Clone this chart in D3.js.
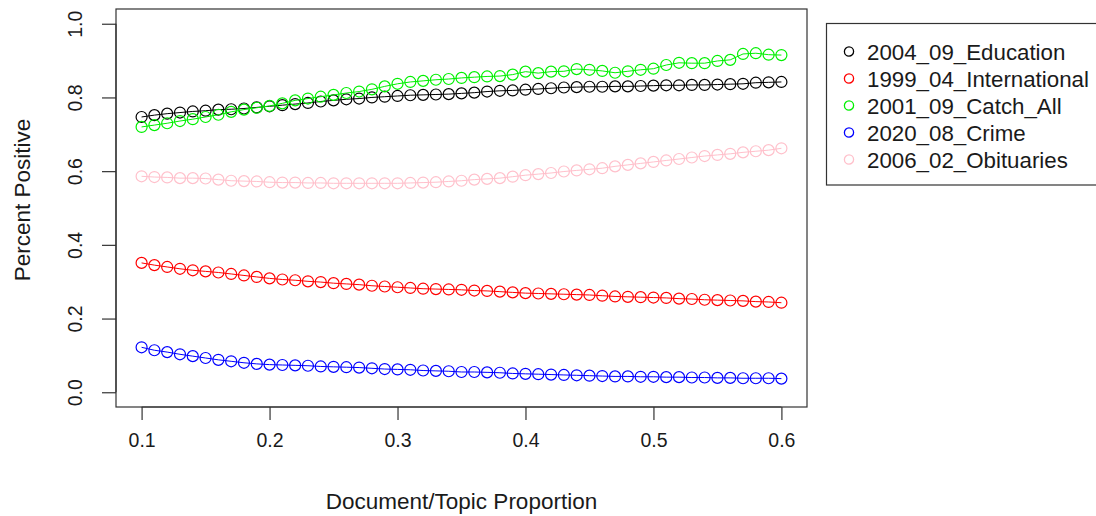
<!DOCTYPE html>
<html>
<head>
<meta charset="utf-8">
<script src="https://cdn.jsdelivr.net/npm/d3@7"></script>
<style>
  html, body { margin: 0; padding: 0; background: #fff; }
  svg { display: block; font-family: "Liberation Sans", Arial, sans-serif; }
  .axis path, .axis line { stroke: #333; stroke-width: 1.2; }
  .axis text { fill: #1a1a1a; font-size: 19.5px; font-family: "Liberation Sans", Arial, sans-serif; }
  .axis-label { fill: #1a1a1a; font-size: 22.5px; }
  .legend text { fill: #1a1a1a; font-size: 22.3px; }
</style>
</head>
<body>
<div id="chart"></div>
<script>
const WIDTH = 1096;
const HEIGHT = 516;

// x: document/topic proportion
const proportions = [
  0.10, 0.11, 0.12, 0.13, 0.14, 0.15, 0.16, 0.17, 0.18, 0.19,
  0.20, 0.21, 0.22, 0.23, 0.24, 0.25, 0.26, 0.27, 0.28, 0.29,
  0.30, 0.31, 0.32, 0.33, 0.34, 0.35, 0.36, 0.37, 0.38, 0.39,
  0.40, 0.41, 0.42, 0.43, 0.44, 0.45, 0.46, 0.47, 0.48, 0.49,
  0.50, 0.51, 0.52, 0.53, 0.54, 0.55, 0.56, 0.57, 0.58, 0.59, 0.60
];

const topicNames = ["2004_09_Education", "1999_04_International", "2001_09_Catch_All", "2020_08_Crime", "2006_02_Obituaries"];
const topicColors = ["#000000", "#ff0000", "#00f000", "#0000ff", "#ffc0cb"];

const education = [
  0.747, 0.752, 0.756, 0.759, 0.762, 0.764, 0.767, 0.768, 0.770, 0.773,
  0.776, 0.779, 0.782, 0.785, 0.789, 0.792, 0.795, 0.797, 0.800, 0.802,
  0.804, 0.806, 0.807, 0.808, 0.809, 0.811, 0.813, 0.816, 0.818, 0.819,
  0.821, 0.823, 0.825, 0.827, 0.828, 0.829, 0.829, 0.830, 0.830, 0.831,
  0.832, 0.833, 0.833, 0.834, 0.834, 0.835, 0.836, 0.837, 0.840, 0.841, 0.842
];
const international = [
  0.351, 0.345, 0.340, 0.335, 0.331, 0.328, 0.325, 0.321, 0.317, 0.313,
  0.309, 0.306, 0.304, 0.301, 0.299, 0.296, 0.294, 0.292, 0.289, 0.287,
  0.285, 0.283, 0.281, 0.280, 0.279, 0.278, 0.276, 0.275, 0.273, 0.271,
  0.269, 0.268, 0.267, 0.266, 0.265, 0.264, 0.262, 0.260, 0.259, 0.258,
  0.257, 0.256, 0.254, 0.253, 0.251, 0.250, 0.249, 0.248, 0.246, 0.245, 0.243
];
const catchAll = [
  0.720, 0.725, 0.730, 0.736, 0.741, 0.747, 0.753, 0.761, 0.767, 0.772,
  0.777, 0.784, 0.792, 0.797, 0.802, 0.807, 0.812, 0.816, 0.822, 0.830,
  0.837, 0.842, 0.845, 0.848, 0.850, 0.853, 0.855, 0.857, 0.858, 0.862,
  0.870, 0.866, 0.870, 0.871, 0.877, 0.875, 0.872, 0.867, 0.871, 0.875,
  0.878, 0.888, 0.894, 0.893, 0.893, 0.899, 0.902, 0.918, 0.920, 0.916, 0.915
];
const crime = [
  0.122, 0.114, 0.109, 0.103, 0.098, 0.093, 0.088, 0.084, 0.080, 0.077,
  0.075, 0.074, 0.073, 0.072, 0.070, 0.069, 0.068, 0.067, 0.065, 0.063,
  0.062, 0.061, 0.059, 0.058, 0.057, 0.055, 0.055, 0.054, 0.053, 0.051,
  0.050, 0.049, 0.048, 0.047, 0.046, 0.045, 0.044, 0.043, 0.043, 0.042,
  0.042, 0.041, 0.041, 0.040, 0.040, 0.039, 0.039, 0.038, 0.038, 0.038, 0.037
];
const obituaries = [
  0.586, 0.584, 0.583, 0.581, 0.581, 0.580, 0.577, 0.574, 0.573, 0.572,
  0.570, 0.569, 0.569, 0.568, 0.568, 0.567, 0.567, 0.567, 0.567, 0.567,
  0.567, 0.568, 0.569, 0.570, 0.572, 0.574, 0.577, 0.579, 0.581, 0.585,
  0.589, 0.592, 0.595, 0.599, 0.602, 0.605, 0.608, 0.613, 0.617, 0.621,
  0.625, 0.629, 0.633, 0.637, 0.641, 0.644, 0.647, 0.651, 0.654, 0.657, 0.662
];

const xTicks = [0.1, 0.2, 0.3, 0.4, 0.5, 0.6];
const yTicks = [0.0, 0.2, 0.4, 0.6, 0.8, 1.0];

const seriesValues = [education, international, catchAll, crime, obituaries];
const series = topicNames.map((name, i) => ({
  name,
  color: topicColors[i],
  points: proportions.map((p, j) => ({ x: p, y: seriesValues[i][j] })),
}));

// plot region (R style box with 4% padding on both axes)
const PLOT = { left: 116, right: 807, top: 9, bottom: 407 };

const x = d3.scaleLinear().domain([0.08, 0.62]).range([PLOT.left, PLOT.right]);
const y = d3.scaleLinear().domain([-0.04, 1.04]).range([PLOT.bottom, PLOT.top]);

const svg = d3.select("#chart")
  .append("svg")
  .attr("width", WIDTH)
  .attr("height", HEIGHT);

svg.append("rect")
  .attr("x", PLOT.left)
  .attr("y", PLOT.top)
  .attr("width", PLOT.right - PLOT.left)
  .attr("height", PLOT.bottom - PLOT.top)
  .attr("fill", "none")
  .attr("stroke", "#333")
  .attr("stroke-width", 1.2);

const xAxis = svg.append("g")
  .attr("class", "axis")
  .attr("transform", `translate(0,${PLOT.bottom})`)
  .call(d3.axisBottom(x).tickValues(xTicks).tickSize(13).tickPadding(13).tickFormat(d3.format(".1f")));
xAxis.select(".domain").attr("d", `M${x(0.1)},0H${x(0.6)}`);

const yAxis = svg.append("g")
  .attr("class", "axis")
  .attr("transform", `translate(${PLOT.left},0)`)
  .call(d3.axisLeft(y).tickValues(yTicks).tickSize(14).tickFormat(d3.format(".1f")));
yAxis.select(".domain").attr("d", `M0,${y(0)}V${y(1)}`);
yAxis.selectAll(".tick text")
  .attr("x", 0)
  .attr("y", 0)
  .attr("dy", 0)
  .attr("text-anchor", "middle")
  .attr("transform", "translate(-41,0) rotate(-90) translate(0,7)");

svg.append("text")
  .attr("class", "axis-label")
  .attr("x", (PLOT.left + PLOT.right) / 2)
  .attr("y", 509)
  .attr("text-anchor", "middle")
  .text("Document/Topic Proportion");

svg.append("text")
  .attr("class", "axis-label")
  .attr("transform", `translate(30,${(PLOT.top + PLOT.bottom) / 2 - 8}) rotate(-90)`)
  .attr("text-anchor", "middle")
  .text("Percent Positive");

const line = d3.line().x((d) => x(d.x)).y((d) => y(d.y));

const groups = svg.append("g")
  .attr("class", "series")
  .selectAll("g")
  .data(series)
  .join("g");

groups.append("path")
  .attr("d", (d) => line(d.points))
  .attr("fill", "none")
  .attr("stroke", (d) => d.color)
  .attr("stroke-width", 1);

groups.selectAll("circle")
  .data((d) => d.points.map((p) => ({ ...p, color: d.color })))
  .join("circle")
  .attr("cx", (d) => x(d.x))
  .attr("cy", (d) => y(d.y))
  .attr("r", 5.5)
  .attr("fill", "none")
  .attr("stroke", (d) => d.color)
  .attr("stroke-width", 1.2);

// legend box runs off the right edge, as in the original
const legend = svg.append("g").attr("class", "legend");
legend.append("rect")
  .attr("x", 826.5)
  .attr("y", 23.5)
  .attr("width", 300)
  .attr("height", 161.5)
  .attr("fill", "#fff")
  .attr("stroke", "#333")
  .attr("stroke-width", 1.2);

const rows = legend.selectAll(".row")
  .data(series)
  .join("g")
  .attr("class", "row")
  .attr("transform", (_, i) => `translate(0,${51.5 + i * 27})`);

rows.append("circle")
  .attr("cx", 849)
  .attr("cy", 0)
  .attr("r", 4.6)
  .attr("fill", "none")
  .attr("stroke", (d) => d.color)
  .attr("stroke-width", 1.3);

rows.append("text")
  .attr("x", 867)
  .attr("y", 0)
  .attr("dy", "0.36em")
  .text((d) => d.name);
</script>
</body>
</html>
